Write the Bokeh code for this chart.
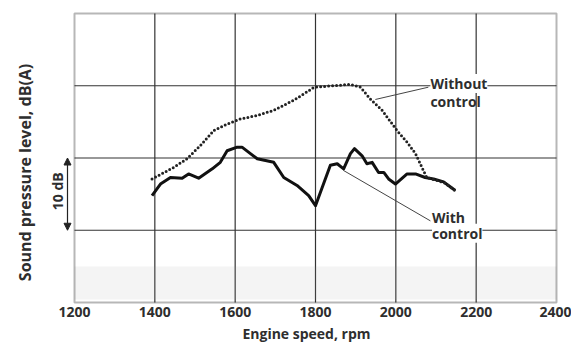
import math
from bokeh.plotting import figure
from bokeh.models import Range1d, FixedTicker, Label, Arrow, NormalHead, BoxAnnotation
from bokeh.embed import file_html
from bokeh.resources import INLINE

# Engine speed (rpm) and relative sound pressure level (dB, 10 dB per grid division)
rpm_with = [1393, 1414, 1439, 1468, 1484, 1509, 1543, 1563, 1580, 1605, 1617, 1638, 1655,
            1696, 1721, 1754, 1783, 1800, 1837, 1854, 1870, 1887, 1897, 1916, 1928, 1941,
            1957, 1970, 1982, 1999, 2028, 2049, 2073, 2094, 2119, 2131, 2148]
db_with = [14.8, 16.4, 17.3, 17.2, 17.8, 17.2, 18.5, 19.4, 21.0, 21.5, 21.5, 20.6, 19.9,
           19.4, 17.3, 16.2, 14.8, 13.4, 19.0, 19.2, 18.5, 20.6, 21.3, 20.3, 19.2, 19.4,
           18.0, 18.0, 17.1, 16.4, 17.8, 17.8, 17.3, 17.1, 16.7, 16.2, 15.5]

rpm_without = [1393, 1447, 1480, 1513, 1547, 1580, 1613, 1655, 1696, 1746, 1783, 1796, 1845,
               1887, 1912, 1936, 1966, 2003, 2028, 2049, 2065, 2077, 2095, 2120, 2150]
db_without = [17.1, 18.7, 19.9, 21.7, 23.8, 24.7, 25.4, 25.9, 26.6, 28.0, 29.3, 29.8, 30.0,
              30.2, 29.8, 28.2, 26.6, 23.8, 22.2, 20.6, 18.7, 17.3, 17.0, 16.6, 15.4]

x_ticks = [1200, 1400, 1600, 1800, 2000, 2200, 2400]
y_grid = [10, 20, 30]
y_limits = (0, 40)
scale_bounds = (10, 20)   # the "10 dB" scale bar

FONT = "Open Sans"
STYLE = "bold"
TXT = "#2e2e2e"

# layout: plot area spans x 74..556 px and y 13..302 px of the 571x344 page;
# the frame covers the whole page so side texts live inside it
X0, X1 = x_ticks[0], x_ticks[-1]
K = (X1 - X0) / 482.0          # rpm per pixel
M = (y_limits[1] - y_limits[0]) / 289.0   # dB per pixel

p = figure(width=571, height=344,
           x_range=Range1d(X0 - 74 * K, X1 + 15 * K),
           y_range=Range1d(y_limits[0] - 42 * M, y_limits[1] + 13 * M),
           output_backend="svg", toolbar_location=None,
           min_border_left=0, min_border_right=0, min_border_top=0, min_border_bottom=0)
p.outline_line_color = None
p.background_fill_color = "white"
p.border_fill_color = "white"
p.yaxis.visible = False
p.grid.visible = False

# faint scan smudge near bottom
p.add_layout(BoxAnnotation(left=X0, right=X1, bottom=0.4, top=5.0, fill_color="#9a9a9a",
                           fill_alpha=0.11, line_color=None, level="underlay"))

# grid lines
p.segment(x0=x_ticks[1:-1], y0=y_limits[0], x1=x_ticks[1:-1], y1=y_limits[1],
          line_color="#333333", line_width=1.2, level="underlay")
p.segment(x0=X0, y0=y_grid, x1=X1, y1=y_grid,
          line_color="#333333", line_width=1.2, level="underlay")

# x axis placed on the bottom edge of the plot area
xa = p.xaxis[0]
xa.fixed_location = y_limits[0]
xa.bounds = (X0, X1)
xa.ticker = FixedTicker(ticks=x_ticks)
xa.axis_line_color = None
xa.major_tick_line_color = None
xa.minor_tick_line_color = None
xa.major_tick_out = 0
xa.major_tick_in = 0
xa.major_label_text_font = FONT
xa.major_label_text_font_style = STYLE
xa.major_label_text_color = TXT
xa.major_label_text_font_size = "14px"
xa.major_label_standoff = 4

# curves
p.line(rpm_with, db_with, line_color="#111111", line_width=3, line_join="round")
p.line(rpm_without, db_without, line_color="#222222", line_width=3, line_dash="0 4",
       line_cap="round")

# plot-area border
p.add_layout(BoxAnnotation(left=X0, right=X1, bottom=y_limits[0], top=y_limits[1],
                           fill_alpha=0, line_color="#111111", line_width=2))

# leader lines
p.segment(x0=[1949, 1869], y0=[28.1, 18.3], x1=[2081, 2086], y1=[29.8, 11.3],
          line_color="#444444", line_width=1)

lab = dict(text_font=FONT, text_font_size="14px", text_font_style=STYLE, text_color=TXT,
           text_baseline="middle", text_align="left")
p.add_layout(Label(x=2086, y=30.3, text="Without", background_fill_color="white", **lab))
p.add_layout(Label(x=2086, y=27.8, text="control", **lab))
p.add_layout(Label(x=2090, y=11.8, text="With", **lab))
p.add_layout(Label(x=2090, y=9.6, text="control", background_fill_color="white", **lab))

# axis titles and 10 dB scale bar
p.add_layout(Label(x=1800 - 9 * K, y=y_limits[0] - 31 * M, text="Engine speed, rpm",
                   text_font=FONT, text_font_size="14px", text_font_style=STYLE,
                   text_color=TXT, text_align="center", text_baseline="middle"))
p.add_layout(Label(x=X0 - 50 * K, y=18.0, text="Sound pressure level, dB(A)", angle=math.pi / 2,
                   text_font=FONT, text_font_size="16px", text_font_style=STYLE,
                   text_color=TXT, text_align="center", text_baseline="middle"))
p.add_layout(Label(x=X0 - 17 * K, y=15.4, text="10 dB", angle=math.pi / 2,
                   text_font=FONT, text_font_size="14px", text_font_style=STYLE,
                   text_color=TXT, text_align="center", text_baseline="middle"))
p.add_layout(Arrow(x_start=X0 - 7 * K, y_start=scale_bounds[0],
                   x_end=X0 - 7 * K, y_end=scale_bounds[1],
                   line_color="#222222", line_width=1.2,
                   start=NormalHead(size=7, fill_color="#222222", line_color="#222222"),
                   end=NormalHead(size=7, fill_color="#222222", line_color="#222222")))

open("out.html", "w").write(file_html(p, INLINE))
